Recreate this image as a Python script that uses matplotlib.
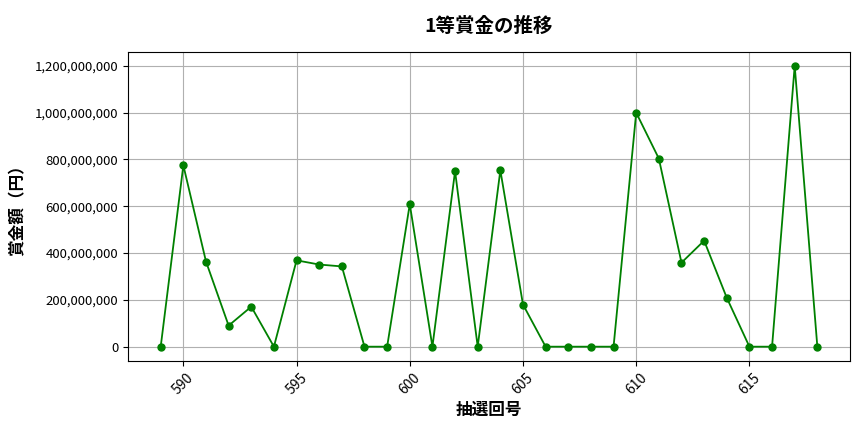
import matplotlib
matplotlib.use("Agg")
import matplotlib.pyplot as plt
from matplotlib.ticker import FuncFormatter

plt.rcParams['font.family'] = ['Noto Sans CJK JP', 'DejaVu Sans']

draw_no = list(range(589, 619))
prize = [
    0, 775000000, 364000000, 90000000, 171000000, 0,
    369000000, 351000000, 343000000, 0, 0, 609000000,
    0, 750000000, 0, 754000000, 180000000, 0,
    0, 0, 0, 1000000000, 804000000, 359000000,
    453000000, 209000000, 0, 0, 1200000000, 0,
]

fig, ax = plt.subplots(figsize=(8.64, 4.32), dpi=100)
ax.plot(draw_no, prize, color="green", marker="o", markersize=5, linewidth=1.3)

ax.set_title("1等賞金の推移", fontsize=14, fontweight="bold", pad=14)
ax.set_xlabel("抽選回号", fontsize=12, fontweight="bold", labelpad=3)
ax.set_ylabel("賞金額（円）", fontsize=12, fontweight="bold", labelpad=6)
ax.yaxis.set_major_formatter(FuncFormatter(lambda v, p: f"{int(v):,}"))
ax.tick_params(axis="y", labelsize=9.5)
ax.tick_params(axis="x", labelsize=10, labelrotation=45)
ax.grid(True, color="#b0b0b0", linewidth=0.8)

fig.subplots_adjust(left=0.148, right=0.984, top=0.88, bottom=0.165)
fig.savefig("out.png")
